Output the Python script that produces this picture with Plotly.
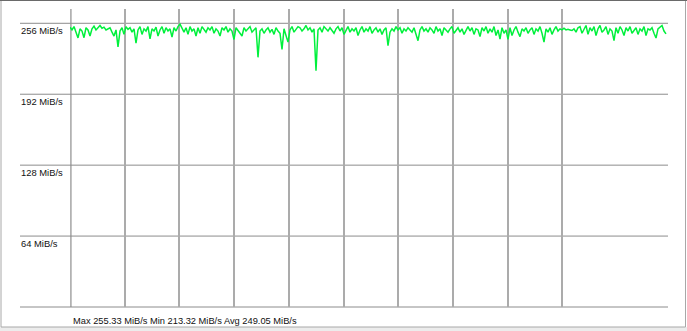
import plotly.graph_objects as go

# ---- data (MiB/s per sample) ----
throughput = [
    252.5, 250, 253, 248, 242.8, 251, 249, 243, 252, 250,
    244.5, 251, 253.5, 250, 252, 254, 251.5, 252.5, 250, 251,
    252, 248, 244.5, 250, 234.6, 249, 252, 246, 253, 250.5,
    252, 248, 251, 238, 250, 253, 246, 251, 249, 253,
    242, 251, 249, 252.5, 244.5, 250, 253, 247, 252, 249,
    251, 243.6, 252, 249, 253, 255.3, 251, 248, 252, 246,
    253, 249, 251, 244.5, 252, 247, 253, 250, 248, 252,
    250, 253, 247, 251, 249, 244.5, 252, 250, 253, 248,
    251, 249, 241.4, 252, 250, 247, 244.5, 252, 249, 251,
    253, 248, 250, 252, 225.3, 249, 251, 247, 250, 252,
    248, 250.5, 246, 252, 249, 247, 232.4, 251, 245, 239,
    250, 253, 248, 251, 253, 252, 249, 251, 254, 250,
    252, 248, 251, 213.3, 250, 252, 248, 253, 251, 249,
    252, 250, 247, 251, 253, 249, 252, 246, 250, 253,
    248, 251, 249, 252, 245, 250, 253, 248, 251, 249,
    253, 247, 250, 252, 248, 251, 246, 250, 252, 235.8,
    248, 251, 249, 253, 250, 252, 247, 251, 249, 252,
    250, 248, 252, 246, 240.3, 250, 253, 249, 251, 248,
    252, 250, 247, 253, 249, 251, 245, 252, 250, 248,
    251, 253, 247, 250, 252, 248, 251, 246, 250, 253,
    249, 252, 246, 251, 250, 244, 252, 249, 253, 247,
    251, 248, 253, 245, 250, 241.8, 252, 247, 250, 241.5,
    252, 245, 250, 253, 248, 244, 251, 249, 252, 247,
    250, 252, 246, 251, 249, 253, 247, 239.1, 251, 248,
    252, 246, 250, 253, 249, 251, 250, 251.5, 250, 250.5,
    250, 249.5, 251, 248, 252, 253, 247, 251, 254, 246,
    252, 249, 253, 245, 251, 254, 248, 250, 253, 246,
    251, 249, 240.3, 252, 247, 253, 250, 245, 252, 249,
    253, 247, 250, 252, 246, 251, 249, 253, 245, 251,
    250, 252, 247, 242.7, 251, 253, 254, 249, 246.4,
]
samples = list(range(len(throughput)))
y_levels = [256, 192, 128, 64, 0]
y_labels = ["256 MiB/s", "192 MiB/s", "128 MiB/s", "64 MiB/s", ""]
summary = "Max 255.33 MiB/s Min 213.32 MiB/s Avg 249.05 MiB/s"
n_vgrid = 10
vgrid_step = 27.35

# ---- geometry ----
W, H = 687, 331
ML, MR, MT, MB = 70, 19, 9, 24
PW, PH = W - ML - MR, H - MT - MB
X_MAX = 299
Y_MAX = 268.9


def px_x(px):
    return (px - ML) / PW


def px_y(py):
    return (H - MB - py) / PH


FONT = "Liberation Sans, Arial, Helvetica, sans-serif"

fig = go.Figure()
fig.add_trace(go.Scatter(
    x=samples, y=throughput, mode="lines",
    line=dict(color="#00f03c", width=1.5),
    hoverinfo="skip", showlegend=False,
))

shapes = []
annotations = []
# page background strip at bottom and border
shapes.append(dict(type="rect", xref="paper", yref="paper",
                   x0=px_x(0), x1=px_x(W), y0=px_y(H), y1=px_y(327),
                   fillcolor="#ececec", line=dict(width=0), layer="below"))
shapes.append(dict(type="rect", xref="paper", yref="paper",
                   x0=px_x(1), x1=px_x(685.5), y0=px_y(327), y1=px_y(0.5),
                   fillcolor="rgba(0,0,0,0)", line=dict(color="#a8a8a8", width=1),
                   layer="below"))
shapes.append(dict(type="line", xref="paper", yref="paper",
                   x0=px_x(0), x1=px_x(W), y0=px_y(0.5), y1=px_y(0.5),
                   line=dict(color="#6a6a6a", width=1)))
# left-most vertical grid line (on the plot edge)
shapes.append(dict(type="line", xref="paper", yref="paper",
                   x0=0.0015, x1=0.0015, y0=0, y1=1,
                   line=dict(color="#ababab", width=1.6), layer="below"))

for lv, lab in zip(y_levels, y_labels):
    yp = lv / Y_MAX
    shapes.append(dict(type="line", xref="paper", yref="paper",
                       x0=px_x(20), x1=1.0, y0=yp, y1=yp,
                       line=dict(color="#8c8c8c", width=1), layer="below"))
    if lab:
        annotations.append(dict(text=lab, xref="paper", yref="paper",
                                x=px_x(20), y=yp, xanchor="left", yanchor="top",
                                xshift=-1, yshift=0, showarrow=False,
                                font=dict(family=FONT, size=9.4, color="#111")))

annotations.append(dict(text=summary, xref="paper", yref="paper",
                        x=px_x(73), y=px_y(321), xanchor="left", yanchor="middle",
                        xshift=-2, showarrow=False,
                        font=dict(family=FONT, size=9.3, color="#111")))

fig.update_layout(
    width=W, height=H,
    margin=dict(l=ML, r=MR, t=MT, b=MB, pad=0),
    paper_bgcolor="white", plot_bgcolor="white",
    shapes=shapes, annotations=annotations,
    xaxis=dict(range=[0, X_MAX], showgrid=True, gridcolor="#ababab", gridwidth=1.6,
               tickvals=[k * vgrid_step for k in range(n_vgrid)],
               showticklabels=False, ticks="", zeroline=False, showline=False,
               fixedrange=True),
    yaxis=dict(range=[0, Y_MAX], showgrid=False, showticklabels=False, ticks="",
               zeroline=False, showline=False, fixedrange=True),
)

fig.write_html("out.html")
